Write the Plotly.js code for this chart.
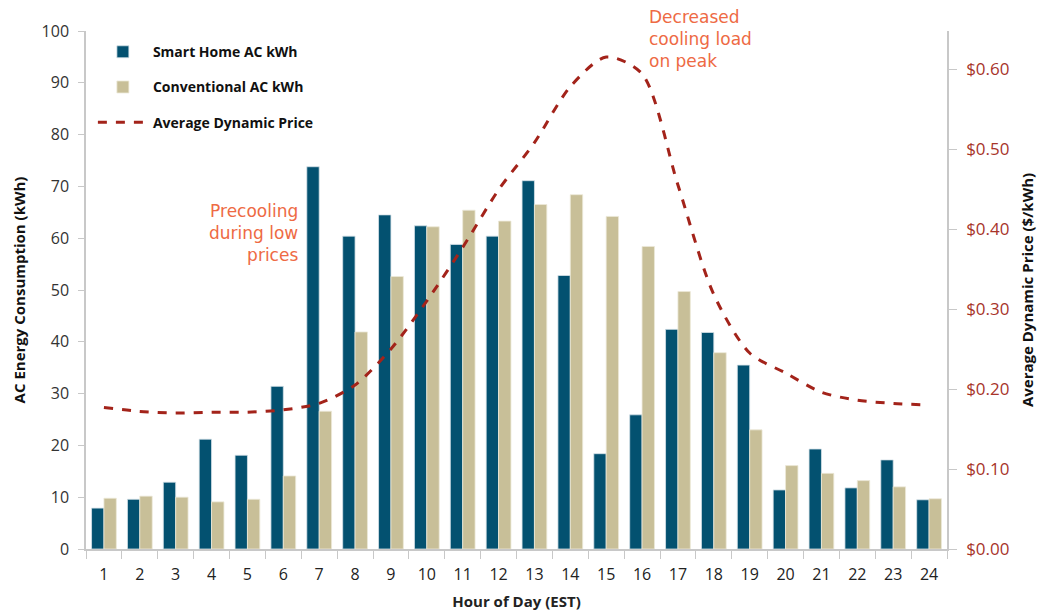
<!DOCTYPE html>
<html>
<head>
<meta charset="utf-8">
<script src="https://cdn.plot.ly/plotly-3.0.1.min.js"></script>
<style>html,body{margin:0;padding:0;background:#fff;}#chart{width:1052px;height:615px;}</style>
</head>
<body>
<div id="chart"></div>
<script>
const hours = ["1","2","3","4","5","6","7","8","9","10","11","12","13","14","15","16","17","18","19","20","21","22","23","24"];
const smartHomeKWh = [7.9, 9.6, 12.9, 21.2, 18.1, 31.4, 73.8, 60.4, 64.5, 62.4, 58.8, 60.4, 71.1, 52.8, 18.4, 25.9, 42.4, 41.8, 35.5, 11.4, 19.3, 11.8, 17.2, 9.5];
const conventionalKWh = [9.8, 10.2, 10.0, 9.1, 9.6, 14.1, 26.6, 41.9, 52.6, 62.2, 65.4, 63.3, 66.5, 68.4, 64.2, 58.4, 49.7, 37.9, 23.0, 16.1, 14.6, 13.2, 12.0, 9.7];
const avgPrice = [0.177, 0.172, 0.170, 0.171, 0.171, 0.174, 0.182, 0.205, 0.250, 0.310, 0.377, 0.449, 0.508, 0.578, 0.615, 0.594, 0.455, 0.318, 0.245, 0.220, 0.196, 0.186, 0.182, 0.180];
const priceTicks = [0, 0.1, 0.2, 0.3, 0.4, 0.5, 0.6];
const priceTickLabels = ["$0.00", "$0.10", "$0.20", "$0.30", "$0.40", "$0.50", "$0.60"];

const boldFont = "Open Sans, Liberation Sans, sans-serif";
const tickFont = "Open Sans, DejaVu Sans, sans-serif";

const traces = [
  {
    type: "bar", name: "Smart Home AC kWh", x: hours, y: smartHomeKWh, legendgroup: "a",
    marker: {color: "#035170", line: {color: "#d7e2e8", width: 0.8}}
  },
  {
    type: "bar", name: "Conventional AC kWh", x: hours, y: conventionalKWh, legendgroup: "b",
    marker: {color: "#c8bf98", line: {color: "#ece8d8", width: 0.8}}
  },
  {
    type: "scatter", mode: "lines", name: "Average Dynamic Price", x: hours, y: avgPrice, yaxis: "y2", legendgroup: "c",
    line: {color: "#a3231a", width: 3, dash: "dash", shape: "spline", smoothing: 0.8}
  }
];

const layout = {
  width: 1052, height: 615,
  margin: {l: 86, r: 105, t: 31, b: 66},
  paper_bgcolor: "#fff", plot_bgcolor: "#fff",
  barmode: "group", bargap: 0.31, bargroupgap: 0,
  showlegend: true,
  legend: {
    x: 0.008, y: 0.99, xanchor: "left", yanchor: "top",
    bgcolor: "rgba(0,0,0,0)",
    font: {family: boldFont, size: 14, color: "#111", weight: "bold"},
    tracegroupgap: 14, itemwidth: 50, traceorder: "grouped"
  },
  xaxis: {
    type: "category",
    showline: true, linecolor: "#c8c8c8", linewidth: 1.5,
    ticks: "outside", tickson: "boundaries", ticklen: 8, tickcolor: "#c8c8c8",
    showgrid: false, zeroline: false,
    ticklabelstandoff: 10,
    tickfont: {family: tickFont, size: 16, color: "#222"},
    title: {text: "Hour of Day (EST)", font: {family: boldFont, size: 15, color: "#222", weight: "bold"}, standoff: 13}
  },
  yaxis: {
    range: [0, 100], dtick: 10,
    showline: true, linecolor: "#c8c8c8", linewidth: 1.5,
    ticks: "outside", ticklen: 6, tickcolor: "#c8c8c8",
    showgrid: false, zeroline: false,
    ticklabelstandoff: 6,
    tickfont: {family: tickFont, size: 16, color: "#333"},
    title: {text: "AC Energy Consumption (kWh)", font: {family: boldFont, size: 15, color: "#111", weight: "bold"}, standoff: 12}
  },
  yaxis2: {
    overlaying: "y", side: "right",
    range: [0, 0.6475],
    tickvals: priceTicks, ticktext: priceTickLabels,
    showline: true, linecolor: "#c8c8c8", linewidth: 1.5,
    ticks: "outside", ticklen: 8, tickcolor: "#c8c8c8",
    showgrid: false, zeroline: false,
    ticklabelstandoff: 6,
    tickfont: {family: tickFont, size: 17, color: "#a8342a"},
    title: {text: "Average Dynamic Price ($/kWh)", font: {family: boldFont, size: 15, color: "#111", weight: "bold"}, standoff: 14}
  },
  annotations: [
    {
      xref: "paper", yref: "paper", x: 0.248, y: 0.675, xanchor: "right", yanchor: "top",
      text: "Precooling<br>during low<br>prices", align: "right", showarrow: false,
      font: {family: "DejaVu Sans, Verdana, sans-serif", size: 17, color: "#ee6a44"}
    },
    {
      x: 0.651, xref: "paper", y: 1.05, yref: "paper", xanchor: "left", yanchor: "top",
      text: "Decreased<br>cooling load<br>on peak", align: "left", showarrow: false,
      font: {family: "DejaVu Sans, Verdana, sans-serif", size: 17, color: "#ee6a44"}
    }
  ]
};

Plotly.newPlot("chart", traces, layout, {displayModeBar: false, responsive: false});
</script>
</body>
</html>
